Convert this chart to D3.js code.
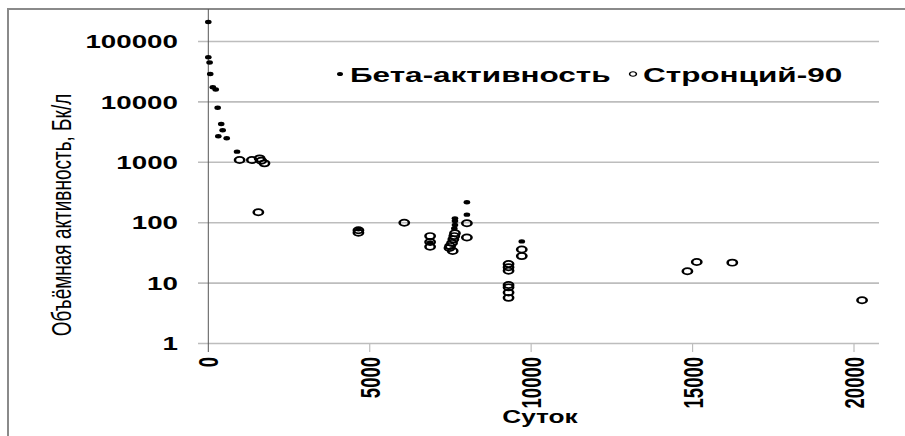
<!DOCTYPE html>
<html>
<head>
<meta charset="utf-8">
<script src="https://cdn.jsdelivr.net/npm/d3@7"></script>
<style>
  html, body { margin: 0; padding: 0; background: #fff; }
  svg { display: block; }
  text { font-family: "Liberation Sans", Arial, sans-serif; fill: #000; }
</style>
</head>
<body>
<svg id="chart"></svg>
<script>
// Days since the event and measured volume activity (Bq/l)
const betaDays   = [0, 0, 40, 60, 140, 230, 290, 400, 445, 310, 570, 890,
                    4650, 6870, 7640, 7640, 7640, 7620, 8010, 8010, 9710];
const betaValues = [210000, 55000, 45000, 29000, 17500, 16000, 8000, 4300, 3400, 2700, 2500, 1500,
                    78, 47, 118, 107, 92, 80, 218, 136, 49];

const srDays   = [970, 1350, 1590, 1640, 1740, 1550, 4650, 4650, 6070, 6870, 6870, 6870,
                  7640, 7620, 7590, 7550, 7490, 7470, 7570, 8010, 8010,
                  9300, 9300, 9300, 9300, 9300, 9300, 9300, 9710, 9710,
                  14840, 15130, 16230, 20250];
const srValues = [1090, 1090, 1160, 1060, 960, 149, 75, 68, 100, 60, 48, 40,
                  67, 60, 53, 46, 41, 38, 34, 98, 57,
                  20.7, 18.3, 16, 9.3, 8.5, 7, 5.7, 36, 28,
                  15.7, 22.4, 21.8, 5.2];

const yTicks = [1, 10, 100, 1000, 10000, 100000];
const xTicks = [0, 5000, 10000, 15000, 20000];
const seriesNames = ["Бета-активность", "Стронций-90"];
const yTitle = "Объёмная активность, Бк/л";
const xTitle = "Суток";

// The chart is laid out in a narrower frame and stretched sideways to fill the page
const sx = 1.5;
const Wpx = 905, Hpx = 436;
const W = Wpx / sx;
const u = px => px / sx;

const svg = d3.select("#chart")
  .attr("width", Wpx).attr("height", Hpx)
  .attr("viewBox", `0 0 ${W} ${Hpx}`)
  .attr("preserveAspectRatio", "none");

const left = u(208.3), right = u(879);
const xMax = 20000 * (879 - 208.3) / (854 - 208.3);
const x = d3.scaleLinear().domain([0, xMax]).range([left, right]);
const y = d3.scaleLog().domain([1, 100000]).range([343.5, 41.5]);

// outer frame (left and top edges)
svg.append("path")
  .attr("d", `M${u(8)},${Hpx} V9 H${W}`)
  .attr("fill", "none").attr("stroke", "#8a8a8a").attr("stroke-width", 2)
  .attr("vector-effect", "non-scaling-stroke");

// horizontal gridlines with short outer ticks
svg.append("g").selectAll("line").data(yTicks).join("line")
  .attr("x1", u(198)).attr("x2", right)
  .attr("y1", d => y(d)).attr("y2", d => y(d))
  .attr("stroke", "#bdbdbd").attr("stroke-width", 1.6)
  .attr("vector-effect", "non-scaling-stroke");

// y tick labels
svg.append("g").selectAll("text").data(yTicks).join("text")
  .attr("x", u(178)).attr("y", d => y(d))
  .attr("dy", "0.36em")
  .attr("text-anchor", "end")
  .attr("font-size", 18.5).attr("font-weight", "bold")
  .text(d => d);

// vertical axis line
svg.append("line")
  .attr("x1", x(0)).attr("x2", x(0))
  .attr("y1", 9).attr("y2", 352)
  .attr("stroke", "#555").attr("stroke-width", 1)
  .attr("vector-effect", "non-scaling-stroke");

// x ticks
svg.append("g").selectAll("line").data(xTicks.slice(1)).join("line")
  .attr("x1", d => x(d)).attr("x2", d => x(d))
  .attr("y1", y(1)).attr("y2", 352)
  .attr("stroke", "#bdbdbd").attr("stroke-width", 1.2)
  .attr("vector-effect", "non-scaling-stroke");

// x tick labels, rotated
svg.append("g").selectAll("text").data(xTicks).join("text")
  .attr("transform", d => `translate(${x(d)},357) rotate(-90)`)
  .attr("dy", "0.36em")
  .attr("text-anchor", "end")
  .attr("font-size", 18.5).attr("font-weight", "bold")
  .text(d => d);

// axis titles
svg.append("text")
  .attr("transform", `translate(${u(61)},215) rotate(-90)`)
  .attr("dy", "0.36em")
  .attr("text-anchor", "middle")
  .attr("font-size", 19)
  .text(yTitle);

svg.append("text")
  .attr("x", u(540)).attr("y", 423)
  .attr("text-anchor", "middle")
  .attr("font-size", 17.5).attr("font-weight", "bold")
  .text(xTitle);

// data markers
const beta = betaDays.map((d, i) => [d, betaValues[i]]);
const sr = srDays.map((d, i) => [d, srValues[i]]);

svg.append("g").selectAll("circle").data(beta).join("circle")
  .attr("cx", d => x(d[0])).attr("cy", d => y(d[1]))
  .attr("r", 2.2).attr("fill", "#000");

svg.append("g").selectAll("circle").data(sr).join("circle")
  .attr("cx", d => x(d[0])).attr("cy", d => y(d[1]))
  .attr("r", 3.1).attr("fill", "none")
  .attr("stroke", "#000").attr("stroke-width", 1.7);

// legend
const leg = svg.append("g");
leg.append("circle").attr("cx", u(340)).attr("cy", 74).attr("r", 2.0).attr("fill", "#000");
leg.append("text").attr("x", u(350)).attr("y", 74).attr("dy", "0.36em")
  .attr("font-size", 21).attr("font-weight", "bold").text(seriesNames[0]);
leg.append("circle").attr("cx", u(633)).attr("cy", 74).attr("r", 2.3)
  .attr("fill", "none").attr("stroke", "#000").attr("stroke-width", 1);
leg.append("text").attr("x", u(643)).attr("y", 74).attr("dy", "0.36em")
  .attr("font-size", 21).attr("font-weight", "bold").text(seriesNames[1]);
</script>
</body>
</html>
